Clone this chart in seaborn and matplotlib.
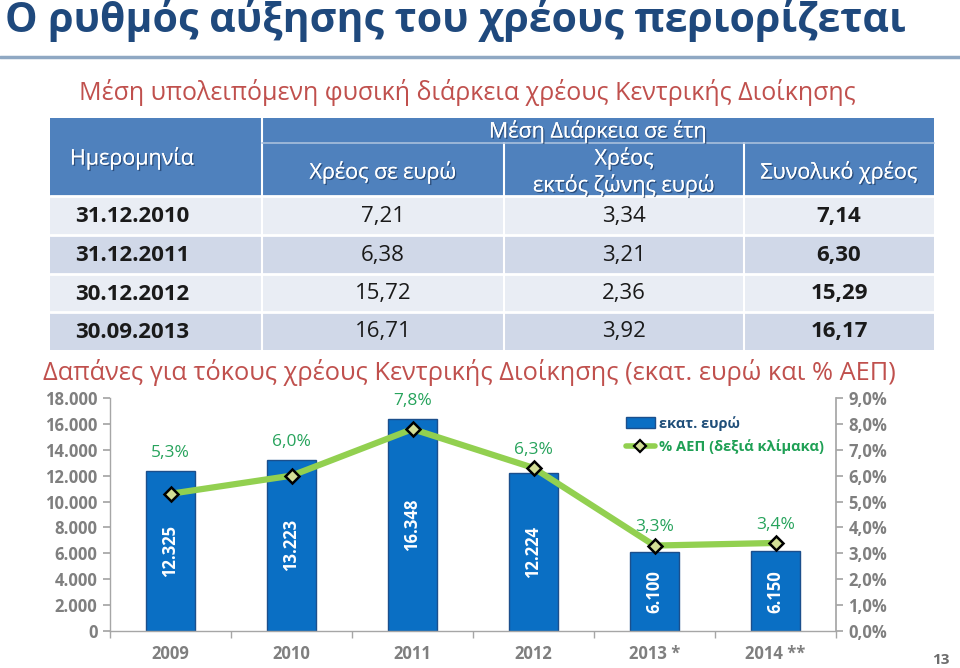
import numpy as np
import pandas as pd
import matplotlib
matplotlib.use('Agg')
import matplotlib.pyplot as plt
import matplotlib.patheffects as pe
from matplotlib.patches import Rectangle, Patch
from matplotlib.lines import Line2D
from matplotlib.ticker import FuncFormatter, FixedLocator
import seaborn as sns

# table data
dates = ['31.12.2010', '31.12.2011', '30.12.2012', '30.09.2013']
dur_eur = [7.21, 6.38, 15.72, 16.71]
dur_non_eur = [3.34, 3.21, 2.36, 3.92]
dur_total = [7.14, 6.30, 15.29, 16.17]

# chart data
years = ['2009', '2010', '2011', '2012', '2013 *', '2014 **']
interest_meur = [12325, 13223, 16348, 12224, 6100, 6150]
interest_pct_gdp = [5.3, 6.0, 7.8, 6.3, 3.3, 3.4]

sns.set_theme(style='white')
plt.rcParams['font.family'] = ['Open Sans', 'DejaVu Sans']

W, H = 960, 668
fig = plt.figure(figsize=(W / 100, H / 100), dpi=100)

# overlay in pixel coordinates for title + table
bg = fig.add_axes([0, 0, 1, 1])
bg.set_xlim(0, W)
bg.set_ylim(H, 0)
bg.axis('off')

bg.text(5, 21, 'Ο ρυθμός αύξησης του χρέους περιορίζεται', fontsize=29.5,
        fontweight='bold', color='#1F497D', va='center', ha='left')
bg.plot([0, W], [57, 57], color='#8FA8C3', lw=2.5)
bg.text(467, 93, 'Μέση υπολειπόμενη φυσική διάρκεια χρέους Κεντρικής Διοίκησης',
        fontsize=18, color='#C0504D', ha='center', va='center')

# table
col_edges = [50, 262, 504, 744, 934]
col_text_x = [132, 383, 624, 839]
head_top, head_mid, head_bot = 118, 143, 196
row_edges = [196, 235, 274, 312, 350]
head_col = '#4F81BD'
row_cols = ['#E9EDF4', '#D0D8E8']
shadow = [pe.withSimplePatchShadow(offset=(1, -1), shadow_rgbFace='#1F3B63', alpha=0.7), pe.Normal()]

bg.add_patch(Rectangle((col_edges[0], head_top), col_edges[-1] - col_edges[0],
                       head_bot - head_top, color=head_col, lw=0))
for i in range(len(dates)):
    bg.add_patch(Rectangle((col_edges[0], row_edges[i]), col_edges[-1] - col_edges[0],
                           row_edges[i + 1] - row_edges[i], color=row_cols[i % 2], lw=0))
# grid lines
bg.plot([col_edges[1], col_edges[1]], [head_top, row_edges[-1]], color='white', lw=1.5)
for x in col_edges[2:4]:
    bg.plot([x, x], [head_mid, row_edges[-1]], color='white', lw=1.5)
bg.plot([col_edges[1], col_edges[-1]], [head_mid, head_mid], color='#A9C0DD', lw=1.2)
for y in row_edges[:-1]:
    bg.plot([col_edges[0], col_edges[-1]], [y, y], color='white', lw=2)

hkw = dict(color='white', ha='center', va='center', fontsize=15.5, path_effects=shadow)
bg.text(col_text_x[0], 158, 'Ημερομηνία', **hkw)
bg.text(598, 131, 'Μέση Διάρκεια σε έτη', **hkw)
bg.text(col_text_x[1], 172, 'Χρέος σε ευρώ', **hkw)
bg.text(col_text_x[2], 158, 'Χρέος', **hkw)
bg.text(col_text_x[2], 185, 'εκτός ζώνης ευρώ', **hkw)
bg.text(col_text_x[3], 172, 'Συνολικό χρέος', **hkw)

fmt_c = lambda v: f'{v:.2f}'.replace('.', ',')
for i in range(len(dates)):
    yc = (row_edges[i] + row_edges[i + 1]) / 2 + 1
    cells = [dates[i], fmt_c(dur_eur[i]), fmt_c(dur_non_eur[i]), fmt_c(dur_total[i])]
    for j, txt in enumerate(cells):
        bg.text(col_text_x[j], yc, txt, ha='center', va='center', fontsize=16,
                color='#1A1A1A', fontweight='bold' if j in (0, 3) else 'normal')

bg.text(469, 372, 'Δαπάνες για τόκους χρέους Κεντρικής Διοίκησης (εκατ. ευρώ και % ΑΕΠ)',
        fontsize=18.3, color='#C0504D', ha='center', va='center')
bg.text(941, 660, '13', fontsize=11, fontweight='bold', color='#6D6D6D', ha='center', va='center')

# chart
ax = fig.add_axes([110 / W, 37 / H, 726 / W, 233 / H])
df = pd.DataFrame({'year': years, 'cost': interest_meur, 'pct': interest_pct_gdp})
sns.barplot(data=df, x='year', y='cost', color='#0A6FC4', saturation=1, width=0.4,
            edgecolor='#1B4F8C', linewidth=1, ax=ax)
ax.set_xlim(-0.5, len(years) - 0.5)
ax.set_ylim(0, 18000)
ax.set_yticks(np.arange(0, 18001, 2000))
ax.yaxis.set_major_formatter(FuncFormatter(lambda v, p: f'{int(v):,}'.replace(',', '.')))
ax.set_xlabel('')
ax.set_ylabel('')

gray = '#7F7F7F'
axis_col = '#A6A6A6'
for s in ['top', 'right']:
    ax.spines[s].set_visible(False)
for s in ['left', 'bottom']:
    ax.spines[s].set_color(axis_col)
    ax.spines[s].set_linewidth(1)
ax.tick_params(axis='y', which='major', direction='out', length=5, color=axis_col,
               labelsize=12, labelcolor=gray, left=True, pad=4)
ax.tick_params(axis='x', which='major', length=0, labelsize=12, labelcolor=gray, pad=10)
ax.xaxis.set_minor_locator(FixedLocator(np.arange(-0.5, len(years), 1)))
ax.tick_params(axis='x', which='minor', direction='out', length=5, color=axis_col, bottom=True)
for lbl in ax.get_yticklabels() + ax.get_xticklabels():
    lbl.set_fontweight('bold')

ax.bar_label(ax.containers[0], labels=[f'{v:,}'.replace(',', '.') for v in interest_meur],
             label_type='center', rotation=90, color='white', fontsize=12, fontweight='bold')

ax2 = ax.twinx()
sns.lineplot(x=np.arange(len(years)), y=interest_pct_gdp, ax=ax2, color='#92D050', lw=4.5,
             marker='D', markersize=7, markerfacecolor='#D2DE96', markeredgecolor='black',
             markeredgewidth=1.8, zorder=5)
ax2.set_ylim(0, 9)
ax2.set_yticks(np.arange(0, 9.01, 1))
ax2.yaxis.set_major_formatter(FuncFormatter(lambda v, p: f'{v:.1f}%'.replace('.', ',')))
for s in ['top', 'left', 'bottom']:
    ax2.spines[s].set_visible(False)
ax2.spines['right'].set_color(axis_col)
ax2.tick_params(axis='y', direction='out', length=5, color=axis_col, labelsize=12,
                labelcolor=gray, right=True, pad=4)
for lbl in ax2.get_yticklabels():
    lbl.set_fontweight('bold')

scale = 18000 / 9
for i, (c, p) in enumerate(zip(interest_meur, interest_pct_gdp)):
    ax2.text(i, max(c / scale, p) + 0.7, f'{p:.1f}%'.replace('.', ','), ha='center',
             va='center', fontsize=12.5, color='#27A35C')

handles = [Patch(facecolor='#0A6FC4', edgecolor='#1B4F8C'),
           Line2D([0], [0], color='#92D050', lw=4, marker='D', markersize=6,
                  markerfacecolor='#D2DE96', markeredgecolor='black', markeredgewidth=1.6)]
leg = fig.legend(handles, ['εκατ. ευρώ', '% ΑΕΠ (δεξιά κλίμακα)'], loc='upper left',
                 bbox_to_anchor=(620 / W, 1 - 410 / H), frameon=False, fontsize=10.5,
                 handlelength=2, handletextpad=0.3, labelspacing=0.6, borderaxespad=0)
for t, c in zip(leg.get_texts(), ['#1F4E79', '#1FA055']):
    t.set_color(c)
    t.set_fontweight('bold')

fig.savefig('out.png', dpi=100)
